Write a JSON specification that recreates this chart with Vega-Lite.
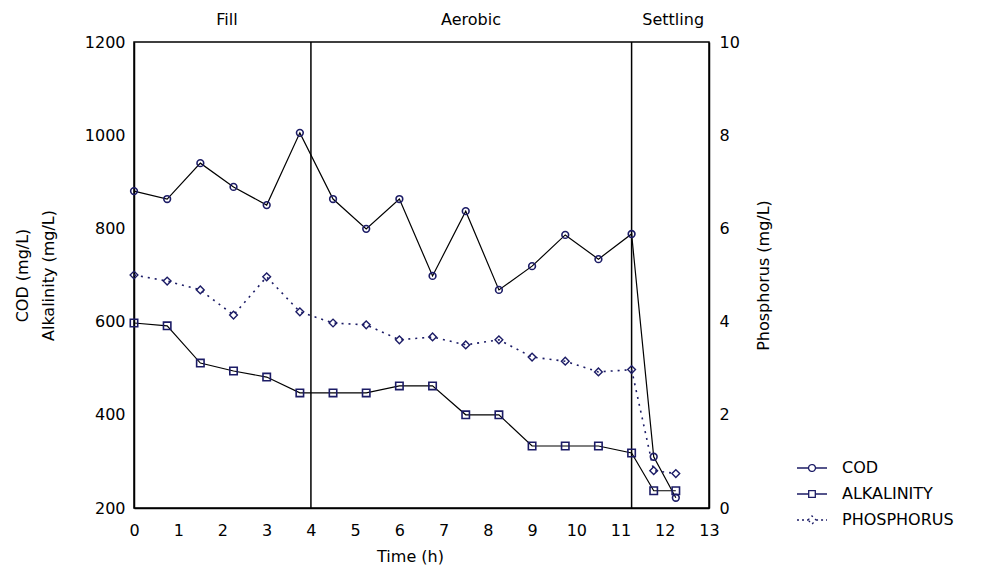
{
  "$schema": "https://vega.github.io/schema/vega-lite/v6.json",
  "width": 575,
  "height": 466,
  "autosize": "none",
  "padding": {"left": 134, "top": 42, "right": 280, "bottom": 60},
  "background": "white",
  "datasets": {
    "series": [
      {"t": 0, "series": "COD", "v": 880},
      {"t": 0.75, "series": "COD", "v": 863},
      {"t": 1.5, "series": "COD", "v": 940},
      {"t": 2.25, "series": "COD", "v": 889},
      {"t": 3, "series": "COD", "v": 850},
      {"t": 3.75, "series": "COD", "v": 1005},
      {"t": 4.5, "series": "COD", "v": 863},
      {"t": 5.25, "series": "COD", "v": 799},
      {"t": 6, "series": "COD", "v": 863},
      {"t": 6.75, "series": "COD", "v": 698},
      {"t": 7.5, "series": "COD", "v": 837},
      {"t": 8.25, "series": "COD", "v": 668},
      {"t": 9, "series": "COD", "v": 719},
      {"t": 9.75, "series": "COD", "v": 786},
      {"t": 10.5, "series": "COD", "v": 734},
      {"t": 11.25, "series": "COD", "v": 788},
      {"t": 11.75, "series": "COD", "v": 310},
      {"t": 12.25, "series": "COD", "v": 222},
      {"t": 0, "series": "ALKALINITY", "v": 597},
      {"t": 0.75, "series": "ALKALINITY", "v": 591},
      {"t": 1.5, "series": "ALKALINITY", "v": 511},
      {"t": 2.25, "series": "ALKALINITY", "v": 494},
      {"t": 3, "series": "ALKALINITY", "v": 481},
      {"t": 3.75, "series": "ALKALINITY", "v": 447},
      {"t": 4.5, "series": "ALKALINITY", "v": 447},
      {"t": 5.25, "series": "ALKALINITY", "v": 447},
      {"t": 6, "series": "ALKALINITY", "v": 462},
      {"t": 6.75, "series": "ALKALINITY", "v": 462},
      {"t": 7.5, "series": "ALKALINITY", "v": 400},
      {"t": 8.25, "series": "ALKALINITY", "v": 400},
      {"t": 9, "series": "ALKALINITY", "v": 333},
      {"t": 9.75, "series": "ALKALINITY", "v": 333},
      {"t": 10.5, "series": "ALKALINITY", "v": 333},
      {"t": 11.25, "series": "ALKALINITY", "v": 318},
      {"t": 11.75, "series": "ALKALINITY", "v": 237},
      {"t": 12.25, "series": "ALKALINITY", "v": 237},
      {"t": 0, "series": "PHOSPHORUS", "v": 5.0},
      {"t": 0.75, "series": "PHOSPHORUS", "v": 4.87},
      {"t": 1.5, "series": "PHOSPHORUS", "v": 4.68},
      {"t": 2.25, "series": "PHOSPHORUS", "v": 4.14},
      {"t": 3, "series": "PHOSPHORUS", "v": 4.96},
      {"t": 3.75, "series": "PHOSPHORUS", "v": 4.21},
      {"t": 4.5, "series": "PHOSPHORUS", "v": 3.97},
      {"t": 5.25, "series": "PHOSPHORUS", "v": 3.93},
      {"t": 6, "series": "PHOSPHORUS", "v": 3.61},
      {"t": 6.75, "series": "PHOSPHORUS", "v": 3.67},
      {"t": 7.5, "series": "PHOSPHORUS", "v": 3.5},
      {"t": 8.25, "series": "PHOSPHORUS", "v": 3.61},
      {"t": 9, "series": "PHOSPHORUS", "v": 3.24},
      {"t": 9.75, "series": "PHOSPHORUS", "v": 3.15},
      {"t": 10.5, "series": "PHOSPHORUS", "v": 2.92},
      {"t": 11.25, "series": "PHOSPHORUS", "v": 2.97},
      {"t": 11.75, "series": "PHOSPHORUS", "v": 0.8},
      {"t": 12.25, "series": "PHOSPHORUS", "v": 0.74}
    ],
    "phases": [
      {"label": "Fill", "t": 2.1, "v": 1247},
      {"label": "Aerobic", "t": 7.62, "v": 1247},
      {"label": "Settling", "t": 12.19, "v": 1247}
    ],
    "bounds": [{"t": 4}, {"t": 11.25}]
  },
  "layer": [
    {
      "layer": [
        {
          "data": {"name": "bounds"},
          "mark": {"type": "rule", "color": "black", "strokeWidth": 1.5},
          "encoding": {
            "x": {"field": "t", "type": "quantitative", "scale": {"domain": [0, 13], "nice": false},
                  "axis": {"title": "Time (h)", "values": [0,1,2,3,4,5,6,7,8,9,10,11,12,13], "labelPadding": 14, "titlePadding": 10, "titleX": 276}}
          }
        },
        {
          "data": {"name": "phases"},
          "mark": {"type": "text", "font": "DejaVu Sans", "fontSize": 16, "color": "black", "baseline": "middle", "align": "center"},
          "encoding": {
            "x": {"field": "t", "type": "quantitative", "scale": {"domain": [0, 13], "nice": false},
                  "axis": {"title": "Time (h)", "values": [0,1,2,3,4,5,6,7,8,9,10,11,12,13], "labelPadding": 14, "titlePadding": 10, "titleX": 276}},
            "y": {"field": "v", "type": "quantitative", "scale": {"domain": [200, 1200], "nice": false},
                  "axis": {"title": ["COD (mg/L)", "Alkalinity (mg/L)"], "values": [200,400,600,800,1000,1200], "format": "d", "labelPadding": 9, "titlePadding": 28, "titleLineHeight": 26}},
            "text": {"field": "label"}
          }
        },
        {
          "data": {"name": "series"},
          "transform": [{"filter": "datum.series == 'COD'"}],
          "mark": {"type": "line", "color": "black", "strokeWidth": 1.2},
          "encoding": {
            "x": {"field": "t", "type": "quantitative", "scale": {"domain": [0, 13], "nice": false},
                  "axis": {"title": "Time (h)", "values": [0,1,2,3,4,5,6,7,8,9,10,11,12,13], "labelPadding": 14, "titlePadding": 10, "titleX": 276}},
            "y": {"field": "v", "type": "quantitative", "scale": {"domain": [200, 1200], "nice": false},
                  "axis": {"title": ["COD (mg/L)", "Alkalinity (mg/L)"], "values": [200,400,600,800,1000,1200], "format": "d", "labelPadding": 9, "titlePadding": 28, "titleLineHeight": 26}}
          }
        },
        {
          "data": {"name": "series"},
          "transform": [{"filter": "datum.series == 'COD'"}],
          "mark": {"type": "point", "shape": "circle", "filled": false, "stroke": "#1c1c66", "strokeWidth": 1.6, "size": 45, "opacity": 1},
          "encoding": {
            "x": {"field": "t", "type": "quantitative", "scale": {"domain": [0, 13], "nice": false},
                  "axis": {"title": "Time (h)", "values": [0,1,2,3,4,5,6,7,8,9,10,11,12,13], "labelPadding": 14, "titlePadding": 10, "titleX": 276}},
            "y": {"field": "v", "type": "quantitative", "scale": {"domain": [200, 1200], "nice": false},
                  "axis": {"title": ["COD (mg/L)", "Alkalinity (mg/L)"], "values": [200,400,600,800,1000,1200], "format": "d", "labelPadding": 9, "titlePadding": 28, "titleLineHeight": 26}}
          }
        },
        {
          "data": {"name": "series"},
          "transform": [{"filter": "datum.series == 'ALKALINITY'"}],
          "mark": {"type": "line", "color": "black", "strokeWidth": 1.2},
          "encoding": {
            "x": {"field": "t", "type": "quantitative", "scale": {"domain": [0, 13], "nice": false},
                  "axis": {"title": "Time (h)", "values": [0,1,2,3,4,5,6,7,8,9,10,11,12,13], "labelPadding": 14, "titlePadding": 10, "titleX": 276}},
            "y": {"field": "v", "type": "quantitative", "scale": {"domain": [200, 1200], "nice": false},
                  "axis": {"title": ["COD (mg/L)", "Alkalinity (mg/L)"], "values": [200,400,600,800,1000,1200], "format": "d", "labelPadding": 9, "titlePadding": 28, "titleLineHeight": 26}}
          }
        },
        {
          "data": {"name": "series"},
          "transform": [{"filter": "datum.series == 'ALKALINITY'"}],
          "mark": {"type": "point", "shape": "square", "filled": false, "stroke": "#1c1c66", "strokeWidth": 1.6, "size": 55, "opacity": 1},
          "encoding": {
            "x": {"field": "t", "type": "quantitative", "scale": {"domain": [0, 13], "nice": false},
                  "axis": {"title": "Time (h)", "values": [0,1,2,3,4,5,6,7,8,9,10,11,12,13], "labelPadding": 14, "titlePadding": 10, "titleX": 276}},
            "y": {"field": "v", "type": "quantitative", "scale": {"domain": [200, 1200], "nice": false},
                  "axis": {"title": ["COD (mg/L)", "Alkalinity (mg/L)"], "values": [200,400,600,800,1000,1200], "format": "d", "labelPadding": 9, "titlePadding": 28, "titleLineHeight": 26}}
          }
        }
      ]
    },
    {
      "layer": [
        {
          "data": {"name": "series"},
          "transform": [{"filter": "datum.series == 'PHOSPHORUS'"}],
          "mark": {"type": "line", "color": "#1c1c66", "strokeWidth": 1.6, "strokeDash": [2, 5]},
          "encoding": {
            "x": {"field": "t", "type": "quantitative", "scale": {"domain": [0, 13], "nice": false},
                  "axis": {"title": "Time (h)", "values": [0,1,2,3,4,5,6,7,8,9,10,11,12,13], "labelPadding": 14, "titlePadding": 10, "titleX": 276}},
            "y": {"field": "v", "type": "quantitative", "scale": {"domain": [0, 10], "nice": false},
                  "axis": {"orient": "right", "title": "Phosphorus (mg/L)", "values": [0,2,4,6,8,10], "titleAngle": -90, "labelPadding": 10, "titlePadding": 32}}
          }
        },
        {
          "data": {"name": "series"},
          "transform": [{"filter": "datum.series == 'PHOSPHORUS'"}],
          "mark": {"type": "point", "shape": "diamond", "filled": false, "stroke": "#1c1c66", "strokeWidth": 1.4, "size": 60, "opacity": 1},
          "encoding": {
            "x": {"field": "t", "type": "quantitative", "scale": {"domain": [0, 13], "nice": false},
                  "axis": {"title": "Time (h)", "values": [0,1,2,3,4,5,6,7,8,9,10,11,12,13], "labelPadding": 14, "titlePadding": 10, "titleX": 276}},
            "y": {"field": "v", "type": "quantitative", "scale": {"domain": [0, 10], "nice": false},
                  "axis": {"orient": "right", "title": "Phosphorus (mg/L)", "values": [0,2,4,6,8,10], "titleAngle": -90, "labelPadding": 10, "titlePadding": 32}}
          }
        }
      ]
    },
    {
      "data": {"name": "series"},
      "transform": [{"filter": "datum.series == 'NONE'"}],
      "mark": {"type": "point", "filled": false, "stroke": "#1c1c66", "strokeWidth": 1.3, "opacity": 1},
      "encoding": {
        "shape": {
          "field": "series", "type": "nominal",
          "scale": {
            "domain": ["COD", "ALKALINITY", "PHOSPHORUS"],
            "range": [
              "M-1,0H-0.23M0.23,0H1M-0.23,0A0.23,0.23,0,1,0,0.23,0A0.23,0.23,0,1,0,-0.23,0",
              "M-1,0H-0.22M0.22,0H1M-0.22,-0.22H0.22V0.22H-0.22Z",
              "M-1,0H-0.27M0.27,0H1M-0.27,0L0,-0.27L0.27,0L0,0.27Z"
            ]
          },
          "legend": {"title": null, "orient": "none", "legendX": 662, "legendY": 410, "symbolSize": 900, "labelOffset": 14, "rowPadding": 2, "padding": 0}
        },
        "strokeDash": {
          "field": "series", "type": "nominal",
          "scale": {"domain": ["COD", "ALKALINITY", "PHOSPHORUS"], "range": [[1, 0], [1, 0], [2, 3]]},
          "legend": {"title": null, "orient": "none", "legendX": 662, "legendY": 410, "symbolSize": 900, "labelOffset": 14, "rowPadding": 2, "padding": 0}
        }
      }
    }
  ],
  "resolve": {"scale": {"y": "independent"}},
  "config": {
    "view": {"stroke": "black", "strokeWidth": 1.5},
    "axis": {
      "labelFont": "DejaVu Sans", "labelFontSize": 16, "labelColor": "black", "labelFlush": false,
      "titleFont": "DejaVu Sans", "titleFontSize": 16, "titleFontWeight": "normal", "titleColor": "black",
      "domainColor": "black", "domainWidth": 1.5, "grid": false, "ticks": false
    },
    "legend": {"labelFont": "DejaVu Sans", "labelFontSize": 16, "labelColor": "black", "symbolStrokeWidth": 1.3}
  }
}
